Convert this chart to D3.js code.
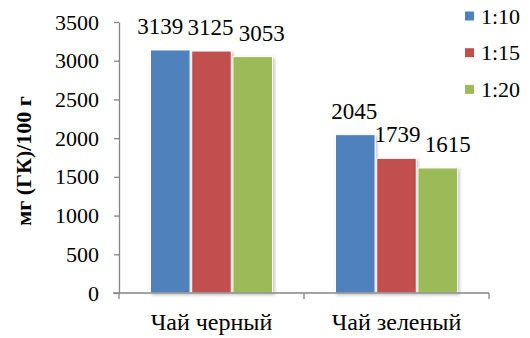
<!DOCTYPE html>
<html>
<head>
<meta charset="utf-8">
<script src="https://cdn.jsdelivr.net/npm/d3@7/dist/d3.min.js"></script>
</head>
<body style="margin:0">
<svg id="chart" width="530" height="338"></svg>
<script>
const categories = ["Чай черный", "Чай зеленый"];
const seriesNames = ["1:10", "1:15", "1:20"];
const values110 = [3139, 2045];
const values115 = [3125, 1739];
const values120 = [3053, 1615];
const yTicks = [0, 500, 1000, 1500, 2000, 2500, 3000, 3500];
const yTitle = "мг (ГК)/100 г";

const seriesValues = [values110, values115, values120];
const colors = ["#4F81BD", "#C0504D", "#9BBB59"];
// small horizontal nudges of data labels (label-overlap avoidance like the original)
const labelNudge = [[-10, -1], [-1, 1], [9, 10]];
const FONT = "Liberation Serif";

const svg = d3.select("#chart");
const plotLeft = 119, plotRight = 489, plotTop = 22, plotBottom = 293;

const defs = svg.append("defs");
const f = defs.append("filter").attr("id", "sh").attr("x", "-20%").attr("y", "-20%").attr("width", "150%").attr("height", "150%");
f.append("feDropShadow").attr("dx", 1.5).attr("dy", 1.5).attr("stdDeviation", 1.5).attr("flood-color", "#000").attr("flood-opacity", 0.25);

const x0 = d3.scaleBand().domain(categories).range([plotLeft, plotRight]).paddingInner(0).paddingOuter(0);
const x1 = d3.scaleBand().domain(seriesNames).range([31.5, x0.bandwidth() - 31.5]).paddingInner(0.04);
const y = d3.scaleLinear().domain([0, 3500]).range([plotBottom, plotTop]);

// y axis
const yAxis = svg.append("g").attr("transform", `translate(${plotLeft},0)`)
  .call(d3.axisLeft(y).tickValues(yTicks).tickFormat(d3.format("d")).tickSize(5).tickPadding(15).tickSizeOuter(0));
yAxis.attr("font-family", FONT).attr("font-size", 22);
yAxis.select(".domain").attr("stroke", "#868686").attr("stroke-width", 1.3);
yAxis.selectAll(".tick line").attr("stroke", "#868686").attr("stroke-width", 1.3);
yAxis.selectAll(".tick text").style("font-size", "22px").style("font-family", FONT).attr("fill", "#000");

// bars
const groups = svg.append("g").selectAll("g").data(categories).join("g")
  .attr("transform", d => `translate(${x0(d)},0)`);
groups.each(function (cat, ci) {
  const g = d3.select(this);
  seriesNames.forEach((s, si) => {
    const v = seriesValues[si][ci];
    g.append("rect")
      .attr("x", x1(s)).attr("y", y(v))
      .attr("width", x1.bandwidth()).attr("height", y(0) - y(v))
      .attr("fill", colors[si]).attr("stroke", "#fff").attr("stroke-width", 1)
      .attr("filter", "url(#sh)");
  });
});

// x axis
const xAxisG = svg.append("g").attr("transform", `translate(0,${plotBottom})`);
xAxisG.append("line").attr("x1", plotLeft - 6).attr("x2", plotRight).attr("y1", 0).attr("y2", 0)
  .attr("stroke", "#868686").attr("stroke-width", 1.3);
const boundaries = [x0.range()[0], ...categories.map(c => x0(c) + x0.bandwidth())];
xAxisG.selectAll(".xt").data(boundaries).join("line")
  .attr("x1", d => d).attr("x2", d => d).attr("y1", 0).attr("y2", 6)
  .attr("stroke", "#868686").attr("stroke-width", 1.3);
xAxisG.selectAll(".xl").data(categories).join("text")
  .attr("x", d => x0(d) + x0.bandwidth() / 2).attr("y", 37)
  .attr("text-anchor", "middle").style("font-size", "24px").style("font-family", FONT).text(d => d);

// data labels
groups.each(function (cat, ci) {
  const g = d3.select(this);
  seriesNames.forEach((s, si) => {
    const v = seriesValues[si][ci];
    g.append("text")
      .attr("x", x1(s) + x1.bandwidth() / 2 + labelNudge[si][ci])
      .attr("y", y(v) - 16)
      .attr("text-anchor", "middle").style("font-size", "23px").style("font-family", FONT).text(v);
  });
});

// y title
svg.append("text").attr("transform", "translate(31,161) rotate(-90)")
  .attr("text-anchor", "middle").style("font-size", "22px").style("font-family", FONT)
  .style("font-weight", "bold").text(yTitle);

// legend
const lg = svg.append("g").attr("transform", "translate(465,16)");
seriesNames.forEach((s, i) => {
  const row = lg.append("g").attr("transform", `translate(0,${i * 36.7})`);
  row.append("rect").attr("x", 0).attr("y", -4.5).attr("width", 9).attr("height", 9).attr("fill", colors[i]);
  row.append("text").attr("x", 16).attr("y", 7.5).style("font-size", "22px").style("font-family", FONT).text(s);
});
</script>
</body>
</html>
